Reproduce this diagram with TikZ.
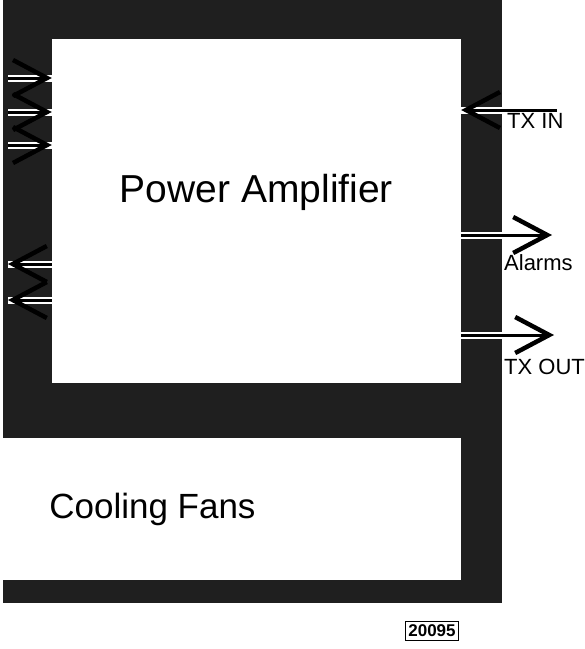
\documentclass[tikz,border=0pt]{standalone}
\usepackage{fontspec}
\setmainfont{Liberation Sans}
\usepackage{tikz}
\usetikzlibrary{arrows.meta,positioning,calc}

\newcommand{\boxfont}{\fontsize{39}{44}\selectfont}
\newcommand{\fanfont}{\fontsize{35}{40}\selectfont}
\newcommand{\sigfont}{\fontsize{22}{25}\selectfont}
\newcommand{\tagfont}{\fontsize{17}{19}\selectfont\bfseries}

\begin{document}
\begin{tikzpicture}[x=1pt, y=-1pt]
  \tikzstyle{band}=[fill=black!88]
  \tikzstyle{unit}=[fill=white, draw=none, inner sep=0pt]
  \tikzstyle{sig}=[line width=3pt,
    -{Straight Barb[length=34pt, width=36pt, line width=4.5pt]},
    preaction={draw=white, line width=7pt, arrows=-}]
  \tikzstyle{sigtext}=[font=\sigfont, anchor=west, inner sep=0pt]
  \useasboundingbox (0,0) rectangle (585,649);
  % dark housing
  \fill[band] (3,0) rectangle (502,603);
  \node[unit, minimum width=409pt, minimum height=344pt] (pa) at (256.5,211) {};
  \node[unit, minimum width=461pt, minimum height=142pt] (fans) at (230.5,509) {};
  \node[font=\boxfont] (patext) at ([yshift=19pt]pa.center) {Power Amplifier};
  \node[font=\fanfont, anchor=west] (fanstext) at ([xshift=46pt]fans.west) {Cooling Fans};
  % signals on the right
  \coordinate (txin) at (557,110);
  \coordinate (alarms) at (552,235);
  \coordinate (txout) at (554,335);
  \draw[sig] (txin) -- (txin -| pa.east);
  \draw[sig] (pa.east |- alarms) -- (alarms);
  \draw[sig] (pa.east |- txout) -- (txout);
  \node[sigtext] (txinlbl) at (507,121) {TX IN};
  \node[sigtext] (alarmslbl) at (504,263) {Alarms};
  \node[sigtext] (txoutlbl) at (504,367) {TX OUT};
  % signals on the left
  \foreach \y [count=\i] in {78,112,145} {
    \coordinate (in\i) at (8,\y);
    \draw[sig] (in\i) -- (pa.west |- in\i);
  }
  \foreach \y [count=\i] in {264,300} {
    \coordinate (out\i) at (8,\y);
    \draw[sig] (pa.west |- out\i) -- (out\i);
  }
  \node[draw, line width=1pt, font=\tagfont, inner sep=3pt] (tag) at (432,631) {20095};
\end{tikzpicture}
\end{document}
